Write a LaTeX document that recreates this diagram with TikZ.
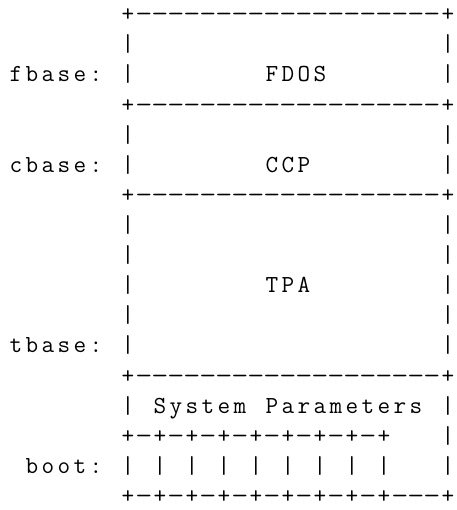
\documentclass[tikz,border=0pt]{standalone}
\makeatletter
\newcommand\cellrow[1]{\@tfor\ch:=#1\do{\makebox[16pt][c]{\if\ch.\else\if\ch-\scalebox{1.35}[1]{-}\else\ch\fi\fi}}}
\makeatother
\tikzset{
  asc/.style={anchor=base west, inner sep=0pt, outer sep=0pt, text depth=0pt,
    font=\fontsize{24.5pt}{30pt}\selectfont\ttfamily, text=black}
}
\newcommand\place[4]{\node[asc] (#1) at (#2pt,{-(21.8+30.1*#3)*1pt}) {\cellrow{#4}};}
\begin{document}
\begin{tikzpicture}
\fill[white] (0,0) rectangle (456pt,-510pt);
\useasboundingbox (0,0) rectangle (456pt,-510pt);
% box rows (column 7 -> x = 8 + 7*16 = 120)
\place{r0}{120}{0}{+-------------------+}
\place{r1}{120}{1}{|...................|}
\place{r2}{120}{2}{|........FDOS.......|}
\place{r3}{120}{3}{+-------------------+}
\place{r4}{120}{4}{|...................|}
\place{r5}{120}{5}{|........CCP........|}
\place{r6}{120}{6}{+-------------------+}
\place{r7}{120}{7}{|...................|}
\place{r8}{120}{8}{|...................|}
\place{r9}{120}{9}{|........TPA........|}
\place{r10}{120}{10}{|...................|}
\place{r11}{120}{11}{|...................|}
\place{r12}{120}{12}{+-------------------+}
\place{r13}{120}{13}{|.System.Parameters.|}
\place{r14}{120}{14}{+-+-+-+-+-+-+-+-+...|}
\place{r15}{120}{15}{|.|.|.|.|.|.|.|.|...|}
\place{r16}{120}{16}{+-+-+-+-+-+-+-+-+---+}
% labels
\place{lf}{8}{2}{fbase:}
\place{lc}{8}{5}{cbase:}
\place{lt}{8}{11}{tbase:}
\place{lb}{24}{15}{boot:}
\end{tikzpicture}
\end{document}
